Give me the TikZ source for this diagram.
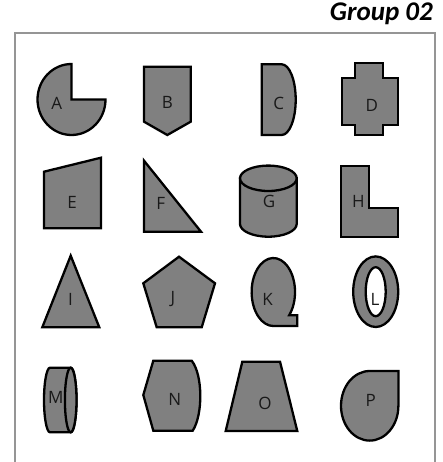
\documentclass[tikz,border=0pt]{standalone}
\usepackage{fontspec}
\setmainfont{Open Sans}
\newfontfamily\titlefont{Carlito}
\usepackage{tikz}
\usetikzlibrary{positioning,calc}

\definecolor{figgray}{HTML}{808080}
\definecolor{framegray}{HTML}{959595}

\tikzset{
  figfill/.style={draw=black, fill=figgray, line width=2.3pt},
  lbl/.style={inner sep=0pt, text=black!90, font=\fontsize{17}{20}\selectfont}
}

\begin{document}
\begin{tikzpicture}[x=1pt, y=-1pt]
		\useasboundingbox (0,0) rectangle (443,462);

		% title and frame
		\node[anchor=base east, inner sep=0pt, font=\titlefont\bfseries\itshape\fontsize{27}{32}\selectfont] (title) at (433,21) {Group 02};
		\draw[framegray, line width=2pt] (15,462) -- (15,33) -- (435,33) -- (435,462);

		% row 1
		\draw[figfill] (71.5,99.5) -- (105.5,99.5) arc[start angle=0, end angle=270, x radius=34, y radius=35.5] -- cycle;
		\node[lbl] (labA) at (56.7,103.7) {A};

		\draw[figfill] (144,66.7) -- (190.7,66.7) -- (190.7,121.7) -- (167.3,135) -- (144,121.7) -- cycle;
		\node[lbl] (labB) at (167.5,102) {B};

		\draw[figfill] (261.7,64.3) -- (281.7,64.3) arc[start angle=270, end angle=450, x radius=14, y radius=35.35] -- (261.7,135) -- cycle;
		\node[lbl] (labC) at (278.7,103) {C};

		\draw[figfill] (355,63.3) -- (383.3,63.3) -- (383.3,78.3) -- (398.3,78.3) -- (398.3,125) -- (383.3,125)
			-- (383.3,135) -- (355,135) -- (355,125) -- (341.7,125) -- (341.7,78.3) -- (355,78.3) -- cycle;
		\node[lbl] (labD) at (371.7,105.5) {D};

		% row 2
		\draw[figfill] (44,171.7) -- (101,157.7) -- (101,228.3) -- (44,228.3) -- cycle;
		\node[lbl] (labE) at (72.2,202) {E};

		\draw[figfill] (144,160.7) -- (144,231.7) -- (201,231.7) -- cycle;
		\node[lbl] (labF) at (160.8,203) {F};

		\draw[figfill] (240,178.3) -- (240,224) arc[start angle=180, end angle=0, x radius=28.35, y radius=12.7] -- (296.7,178.3) -- cycle;
		\draw[figfill] (268.35,178.3) ellipse[x radius=28.35, y radius=12.7];
		\node[lbl] (labG) at (269,201.7) {G};

		\draw[figfill] (340.7,166) -- (369.3,166) -- (369.3,208.3) -- (398.3,208.3) -- (398.3,236.7) -- (340.7,236.7) -- cycle;
		\node[lbl] (labH) at (358.3,201) {H};

		% row 3
		\draw[figfill] (70.7,255.7) -- (99.3,327.3) -- (42.3,327.3) -- cycle;
		\node[lbl] (labI) at (70.5,299.5) {I};

		\draw[figfill] (179,256.7) -- (215,283.3) -- (201.7,327.3) -- (156.7,327.3) -- (143.3,283.3) -- cycle;
		\node[lbl] (labJ) at (173,299.5) {J};

		\draw[figfill] (297.3,326) -- (297.3,315.2) -- (289.2,315.2) arc[start angle=43, end angle=-270, x radius=21.7, y radius=34] -- cycle;
		\node[lbl] (labK) at (267.5,299.5) {K};

		\draw[figfill] (375.7,291.7) ellipse[x radius=22.5, y radius=35.3];
		\draw[figfill, fill=white] (375.7,291.7) ellipse[x radius=10, y radius=24.5];
		\node[lbl] (labL) at (375,299.5) {L};

		% row 4
		\draw[figfill] (50,367.7) -- (70.7,367.7) arc[start angle=270, end angle=450, x radius=5.8, y radius=32.3]
			-- (50,432.3) arc[start angle=90, end angle=270, x radius=6, y radius=32.3] -- cycle;
		\draw[figfill] (70.7,400) ellipse[x radius=5.8, y radius=32.3];
		\node[lbl] (labM) at (55.8,397.8) {M};

		\draw[figfill] (153.3,360.7) -- (191.7,360.7) .. controls (203,375) and (203,415) .. (192.7,430.7)
			-- (153.3,430.7) -- (143.3,395) -- cycle;
		\node[lbl] (labN) at (174.7,399.5) {N};

		\draw[figfill] (242.3,361.7) -- (280,361.7) -- (297.3,431) -- (225.7,431) -- cycle;
		\node[lbl] (labO) at (265,403.5) {O};

		\draw[figfill] (369.7,371) -- (398.4,371) -- (398.4,405.8) arc[start angle=0, end angle=270, x radius=28.7, y radius=34.8] -- cycle;
		\node[lbl] (labP) at (370.8,400) {P};
	\end{tikzpicture}
\end{document}
